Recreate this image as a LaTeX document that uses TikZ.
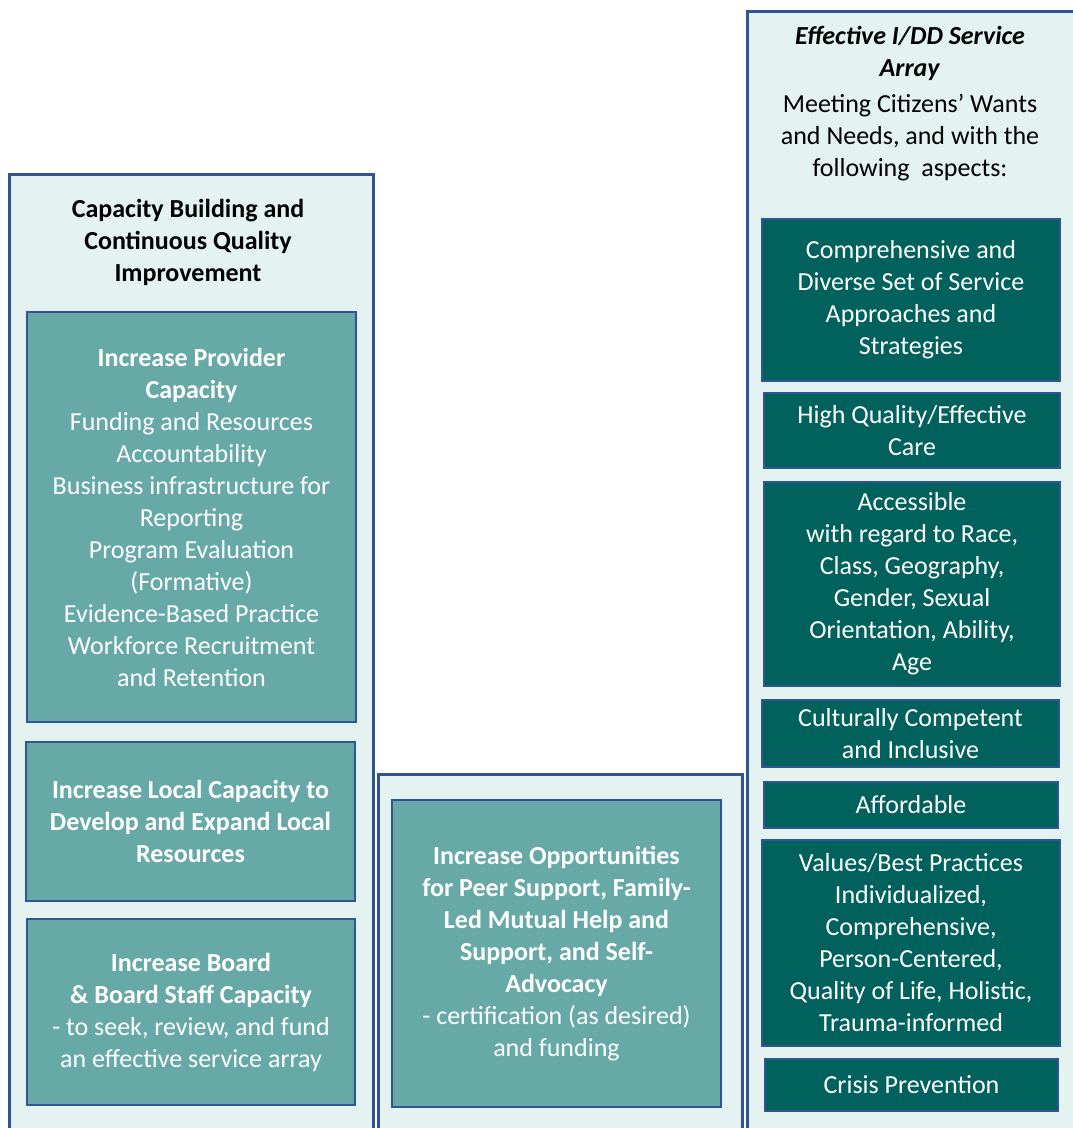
\documentclass[tikz,border=0pt]{standalone}
\usepackage{fontspec}
\setmainfont{Carlito}
\definecolor{panelblue}{HTML}{2F5597}
\definecolor{panelfill}{HTML}{E4F2F2}
\definecolor{lightteal}{HTML}{66A9A7}
\definecolor{darkteal}{HTML}{00615D}

\begin{document}
\begin{tikzpicture}[x=1pt,y=-1pt,
		panel/.style={draw=panelblue, line width=3pt, fill=panelfill, anchor=north west, inner sep=0pt},
		heading/.style={align=center, text=black, font=\fontsize{26}{32}\selectfont},
		goalbox/.style={draw=panelblue, line width=1.5pt, fill=lightteal, text=white, align=center, inner sep=0pt, font=\fontsize{26}{32}\selectfont},
		aspectbox/.style={draw=panelblue, line width=1.5pt, fill=darkteal, text=white, align=center, inner sep=0pt, font=\fontsize{26}{32}\selectfont}]
		\useasboundingbox (0,0) rectangle (1073,1128);
		\fill[white] (0,0) rectangle (1073,1128);
		% the three columns
		\node[panel, minimum width=364, minimum height=970] (capPanel) at (8,173) {};
		\node[panel, minimum width=364, minimum height=370] (peerPanel) at (377,773) {};
		\node[panel, minimum width=340, minimum height=1130] (arrayPanel) at (746,10) {};
		\node[heading] (capTitle) at (188,242) {\textbf{Capacity Building and}\\ \textbf{Continuous Quality}\\ \textbf{Improvement}};
		\node[heading] (arrayTitle) at (910,104) {\textbf{\textit{Effective I/DD Service}}\\ \textbf{\textit{Array}}\\[4pt] Meeting Citizens’ Wants\\ and Needs, and with the\\ following~ aspects:};
		% left column
		\node[goalbox, minimum width=329, minimum height=410] (provider) at (191.5,517) {\textbf{Increase Provider}\\ \textbf{Capacity}\\ Funding and Resources\\ Accountability\\ Business infrastructure for\\ Reporting\\ Program Evaluation\\ (Formative)\\ Evidence-Based Practice\\ Workforce Recruitment\\ and Retention};
		\node[goalbox, minimum width=329, minimum height=159] (local) at (190.5,821.5) {\textbf{Increase Local Capacity to}\\ \textbf{Develop and Expand Local}\\ \textbf{Resources}};
		\node[goalbox, minimum width=328, minimum height=186] (board) at (191,1012) {\textbf{Increase Board}\\ \textbf{\& Board Staff Capacity}\\ - to seek, review, and fund\\ an effective service array};
		% middle column
		\node[goalbox, minimum width=329, minimum height=307] (peer) at (556.5,953.5) {\textbf{Increase Opportunities}\\ \textbf{for Peer Support, Family-}\\ \textbf{Led Mutual Help and}\\ \textbf{Support, and Self-}\\ \textbf{Advocacy}\\ - certification (as desired)\\ and funding};
		% right column
		\node[aspectbox, minimum width=298, minimum height=162] (diverse) at (911,300) {Comprehensive and\\ Diverse Set of Service\\ Approaches and\\ Strategies};
		\node[aspectbox, minimum width=296, minimum height=75] (quality) at (912,430.5) {High Quality/Effective\\ Care};
		\node[aspectbox, minimum width=296, minimum height=204] (access) at (912,584) {Accessible\\ with regard to Race,\\ Class, Geography,\\ Gender, Sexual\\ Orientation, Ability,\\ Age};
		\node[aspectbox, minimum width=297, minimum height=67] (culture) at (910.5,733.5) {Culturally Competent\\ and Inclusive};
		\node[aspectbox, minimum width=294, minimum height=46] (afford) at (911,805) {Affordable};
		\node[aspectbox, minimum width=298, minimum height=206] (values) at (911,943) {Values/Best Practices\\ Individualized,\\ Comprehensive,\\ Person-Centered,\\ Quality of Life, Holistic,\\ Trauma-informed};
		\node[aspectbox, minimum width=293, minimum height=52] (crisis) at (911.5,1085) {Crisis Prevention};
	\end{tikzpicture}
\end{document}
